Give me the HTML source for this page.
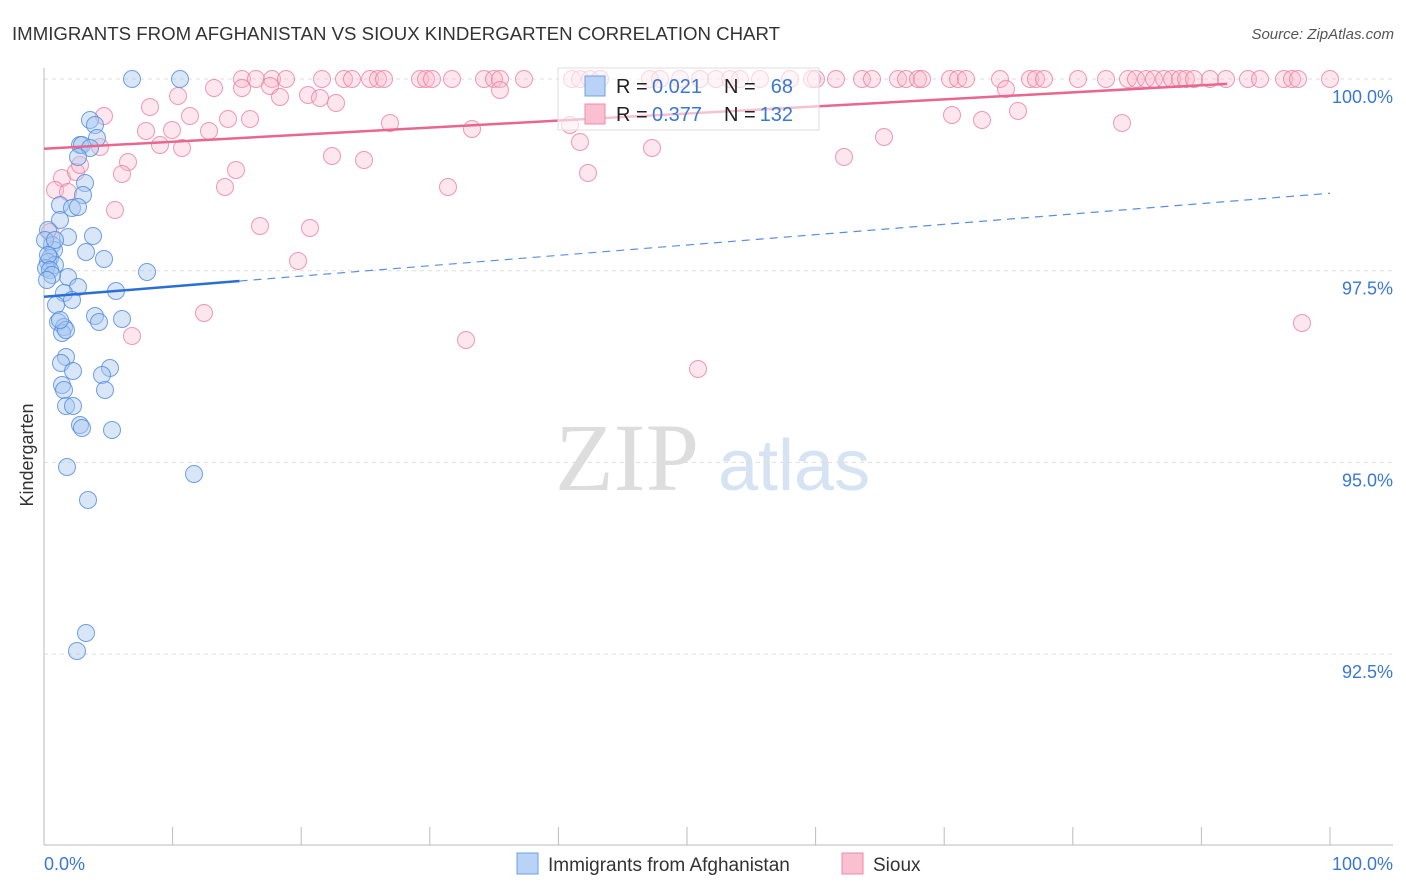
<!DOCTYPE html>
<html><head><meta charset="utf-8"><style>
body{margin:0;background:#fff;font-family:"Liberation Sans",sans-serif}
svg{display:block}
</style></head><body>
<svg id="c" width="1406" height="892" xmlns="http://www.w3.org/2000/svg">
<text x="12" y="40" font-size="18" fill="#333" textLength="768" lengthAdjust="spacingAndGlyphs">IMMIGRANTS FROM AFGHANISTAN VS SIOUX KINDERGARTEN CORRELATION CHART</text>
<text x="1394" y="39" font-size="15" fill="#555" text-anchor="end" font-style="italic">Source: ZipAtlas.com</text>
<text x="555" y="490" font-size="96" fill="#ddd" font-family="Liberation Serif,serif">ZIP</text>
<text x="718" y="490" font-size="72" fill="#d5e3f3">atlas</text>
<text transform="translate(33,455) rotate(-90)" font-size="18" fill="#333" text-anchor="middle">Kindergarten</text>
<g id="grid"></g><g id="pts"></g><g id="lines"></g>
<g>
<rect x="558" y="68" width="261" height="62" fill="#fff" fill-opacity="0.6" stroke="#ddd"/>
<rect x="585" y="76" width="20" height="20" fill="#b8d3f5" stroke="#6ea1e6"/>
<rect x="585" y="104" width="20" height="20" fill="#f8c0d0" stroke="#f08aa8"/>
<text x="616" y="93" font-size="20" fill="#222">R =</text>
<text x="652" y="93" font-size="20" fill="#3a78d4">0.021</text>
<text x="724" y="93" font-size="20" fill="#222">N =</text>
<text x="793" y="93" font-size="20" fill="#3a78d4" text-anchor="end">68</text>
<text x="616" y="121" font-size="20" fill="#222">R =</text>
<text x="652" y="121" font-size="20" fill="#3a78d4">0.377</text>
<text x="724" y="121" font-size="20" fill="#222">N =</text>
<text x="793" y="121" font-size="20" fill="#3a78d4" text-anchor="end">132</text>
</g>
<g>
<rect x="517" y="853" width="21" height="21" fill="#b8d3f5" stroke="#6ea1e6"/>
<text x="548" y="871" font-size="19" fill="#333">Immigrants from Afghanistan</text>
<rect x="842" y="853" width="21" height="21" fill="#f8c0d0" stroke="#f08aa8"/>
<text x="873" y="871" font-size="19" fill="#333">Sioux</text>
</g>
<text x="44" y="870" font-size="18" fill="#3a78d4">0.0%</text>
<text x="1393" y="870" font-size="18" fill="#3a78d4" text-anchor="end">100.0%</text>
</svg>
<script>
const yTicks=[100,97.5,95,92.5];
const yTickLabels=["100.0%","97.5%","95.0%","92.5%"];
const xTicks=[0,10,20,30,40,50,60,70,80,90,100];
const bluePx=[[132,79],[180,79],[90,120],[95,125],[97,138],[80,145],[82,145],[90,148],[78,157],[85,183],[83,195],[60,205],[72,208],[78,207],[60,220],[48,230],[68,237],[93,236],[52,245],[54,250],[86,252],[104,259],[50,258],[48,262],[55,265],[46,268],[147,272],[68,277],[78,287],[64,293],[116,291],[72,300],[56,305],[95,316],[122,319],[58,322],[99,322],[64,327],[62,333],[66,357],[61,363],[110,368],[73,371],[102,375],[62,385],[64,390],[105,390],[66,406],[73,406],[80,425],[82,428],[112,430],[67,467],[194,474],[88,500],[86,633],[77,651],[45,240],[48,255],[50,270],[52,275],[47,280],[55,240],[66,330],[60,320]];
const pinkTopX=[242,256,272,286,322,344,352,370,378,384,420,426,432,452,484,494,500,524,572,580,590,600,650,660,680,700,716,730,740,760,790,812,816,836,862,872,898,906,918,922,950,958,966,1000,1030,1036,1044,1078,1106,1128,1136,1146,1154,1164,1172,1180,1186,1194,1210,1226,1248,1260,1284,1292,1298,1330];
const pinkPx=[[242,88],[270,86],[280,97],[308,95],[320,98],[336,103],[178,96],[214,88],[150,107],[104,116],[190,116],[228,119],[250,119],[390,123],[472,129],[570,125],[146,131],[172,130],[209,131],[160,145],[182,148],[100,147],[128,162],[332,156],[364,160],[580,142],[652,148],[844,157],[884,137],[952,115],[982,120],[1018,111],[1122,123],[1006,89],[500,90],[236,170],[122,174],[62,178],[76,172],[80,165],[55,190],[68,192],[225,187],[448,187],[588,173],[115,210],[260,226],[310,228],[50,232],[298,261],[204,313],[132,336],[466,340],[698,369],[1302,323]];
const X0=44,X1=1330,Y100=79,PX_PER_PCT=191.7/2.5;
function xs(v){return X0+(X1-X0)*v/100}
function ys(v){return Y100+(100-v)*PX_PER_PCT}
function ix(p){return (p-X0)/(X1-X0)*100}
function iy(p){return 100-(p-Y100)/PX_PER_PCT}
const blueX=bluePx.map(p=>ix(p[0])), blueY=bluePx.map(p=>iy(p[1]));
const pinkX=pinkTopX.map(ix).concat(pinkPx.map(p=>ix(p[0])));
const pinkY=pinkTopX.map(()=>100).concat(pinkPx.map(p=>iy(p[1])));
const blueTrend=[97.16,98.51], pinkTrend=[99.09,100.01];
const NS="http://www.w3.org/2000/svg";
function el(t,a,parent){const e=document.createElementNS(NS,t);for(const k in a)e.setAttribute(k,a[k]);parent.appendChild(e);return e}
const g=document.getElementById('grid');
yTicks.forEach((v,i)=>{
 const l=el('line',{x1:44,x2:1393,y1:ys(v),y2:ys(v),stroke:'#ddd','stroke-dasharray':'4,4'},g);
 
 
 const t=el('text',{x:1393,y:ys(v)+24,'font-size':18,fill:'#3a78d4','text-anchor':'end'},g);
 t.textContent=yTickLabels[i];
 
 
});
const ax=el('line',{x1:44,x2:44,y1:68,y2:845,stroke:'#bbb'},g);


const bx=el('line',{x1:44,x2:1393,y1:845,y2:845,stroke:'#bbb'},g);


xTicks.forEach(v=>{
 const l=el('line',{x1:xs(v),x2:xs(v),y1:827,y2:845,stroke:'#bbb'},g);
 
 
});
const P=document.getElementById('pts');
pinkX.forEach((x,i)=>{
 const c=el('circle',{cx:xs(x),cy:ys(pinkY[i]),r:8.5,fill:'#f8b8cb','fill-opacity':0.35,stroke:'#e87a9e','stroke-opacity':0.75},P);
 
 
});
blueX.forEach((x,i)=>{
 const c=el('circle',{cx:xs(x),cy:ys(blueY[i]),r:8.5,fill:'#a9c8f0','fill-opacity':0.45,stroke:'#4d8ae0','stroke-opacity':0.8},P);
 
 
});
const L=document.getElementById('lines');
function ty(tr,x){return tr[0]+(tr[1]-tr[0])*x/100}
const pl=el('line',{x1:xs(0),y1:ys(pinkTrend[0]),x2:xs(92),y2:ys(ty(pinkTrend,92)),stroke:'#e8668f','stroke-width':2.5},L);


const bs=el('line',{x1:xs(0),y1:ys(blueTrend[0]),x2:xs(15.2),y2:ys(ty(blueTrend,15.2)),stroke:'#2a6fd6','stroke-width':2.5},L);


const bd=el('line',{x1:xs(15.2),y1:ys(ty(blueTrend,15.2)),x2:xs(100),y2:ys(blueTrend[1]),stroke:'#5b8fdc','stroke-width':1.2,'stroke-dasharray':'8,6'},L);


</script>
</body></html>
